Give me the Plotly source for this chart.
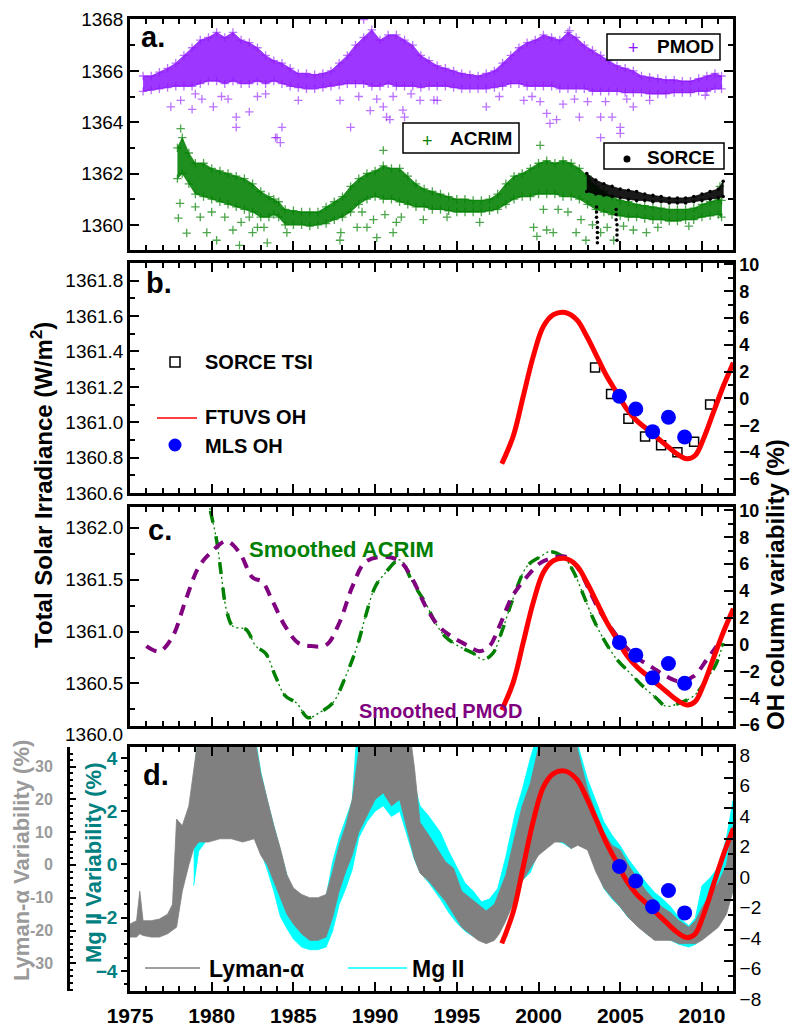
import plotly.graph_objects as go

W, H = 792, 1028
FONT = "Liberation Sans, Arial, sans-serif"


def fx(p):
    return p / W


def fy(p):
    return 1 - p / H


# ---------------- panel a: TSI composites (W/m^2) ----------------
pmod_year = [1975.8, 1976.3, 1976.8, 1977.3, 1977.8, 1978.3, 1978.8, 1979.3, 1979.8, 1980.3,
             1980.8, 1981.3, 1981.8, 1982.3, 1982.8, 1983.3, 1983.8, 1984.3, 1984.8, 1985.3,
             1985.8, 1986.3, 1986.8, 1987.3, 1987.8, 1988.3, 1988.8, 1989.3, 1989.8, 1990.3,
             1990.8, 1991.3, 1991.8, 1992.3, 1992.8, 1993.3, 1993.8, 1994.3, 1994.8, 1995.3,
             1995.8, 1996.3, 1996.8, 1997.3, 1997.8, 1998.3, 1998.8, 1999.3, 1999.8, 2000.3,
             2000.8, 2001.3, 2001.8, 2002.3, 2002.8, 2003.3, 2003.8, 2004.3, 2004.8, 2005.3,
             2005.8, 2006.3, 2006.8, 2007.3, 2007.8, 2008.3, 2008.8, 2009.3, 2009.8, 2010.3,
             2010.8, 2011.2]
pmod_hi = [1365.8, 1365.8, 1365.95, 1366.1, 1366.3, 1366.6, 1366.9, 1367.2, 1367.3, 1367.5,
           1367.3, 1367.5, 1367.2, 1367.1, 1366.9, 1366.6, 1366.4, 1366.3, 1366.1, 1365.9,
           1365.9, 1365.85, 1365.9, 1366.0, 1366.3, 1366.6, 1367.0, 1367.3, 1367.6, 1367.2,
           1367.4, 1367.4, 1367.2, 1367.0, 1366.6, 1366.4, 1366.2, 1366.1, 1366.0, 1365.9,
           1365.85, 1365.8, 1365.9, 1366.0, 1366.3, 1366.6, 1366.9, 1367.1, 1367.2, 1367.4,
           1367.3, 1367.2, 1367.5, 1367.3, 1367.0, 1366.8, 1366.6, 1366.4, 1366.2, 1366.1,
           1366.0, 1365.8, 1365.75, 1365.7, 1365.65, 1365.65, 1365.6, 1365.6, 1365.7, 1365.8,
           1365.9, 1365.8]
pmod_lo = [1365.2, 1365.25, 1365.3, 1365.35, 1365.4, 1365.4, 1365.4, 1365.5, 1365.6, 1365.6,
           1365.5, 1365.6, 1365.5, 1365.5, 1365.6, 1365.5, 1365.6, 1365.5, 1365.4, 1365.35,
           1365.3, 1365.3, 1365.35, 1365.4, 1365.45, 1365.5, 1365.5, 1365.5, 1365.4, 1365.4,
           1365.5, 1365.4, 1365.4, 1365.4, 1365.35, 1365.4, 1365.4, 1365.4, 1365.35, 1365.3,
           1365.3, 1365.3, 1365.3, 1365.35, 1365.4, 1365.5, 1365.5, 1365.4, 1365.4, 1365.4,
           1365.4, 1365.3, 1365.3, 1365.3, 1365.3, 1365.2, 1365.2, 1365.2, 1365.2, 1365.15,
           1365.15, 1365.15, 1365.1, 1365.1, 1365.1, 1365.15, 1365.15, 1365.15, 1365.2, 1365.2,
           1365.3, 1365.3]
pmod_out_year = [1977.5, 1978.1, 1978.8, 1979.4, 1980.1, 1981.5, 1981.5, 1982.3, 1983.9, 1984.0,
                 1984.2, 1984.3, 1985.3, 1987.85, 1988.5, 1989.3, 1989.7, 1990.5, 1990.7, 1990.9,
                 1991.7, 1991.8, 1992.75, 1993.6, 1993.8, 1996.8, 1997.6, 1999.1, 2000.5, 2000.7,
                 2001.1, 2001.9, 2002.5, 2003.8, 2003.8, 2004.5, 2005.0, 2005.0, 2005.8, 2006.8,
                 2010.2, 1979.0, 1980.6, 1981.0, 1982.8, 1983.3, 1989.0, 1990.1, 1991.1, 1992.2,
                 1999.6, 2000.1, 2001.5, 2002.2, 2003.0, 2004.1, 2005.4]
pmod_out_val = [1364.6, 1364.85, 1364.5, 1364.9, 1364.6, 1364.2, 1363.8, 1364.4, 1363.4, 1363.4,
                1363.2, 1363.8, 1364.85, 1364.85, 1363.8, 1368.0, 1364.45, 1364.6, 1364.2, 1364.1,
                1364.47, 1364.2, 1364.85, 1364.86, 1364.85, 1364.6, 1365.0, 1364.85, 1364.34, 1363.95,
                1364.1, 1367.57, 1364.2, 1364.2, 1363.4, 1364.2, 1363.8, 1363.56, 1364.6, 1364.85,
                1365.05, 1365.1, 1365.0, 1364.9, 1365.0, 1365.1, 1365.0, 1364.9, 1365.0, 1365.1,
                1365.0, 1364.8, 1364.7, 1364.9, 1364.8, 1364.8, 1364.9]

acrim_year = [1977.9, 1978.2, 1978.6, 1979.0, 1979.5, 1980.0, 1980.5, 1981.0, 1981.5, 1982.0,
              1982.5, 1983.0, 1983.5, 1983.8, 1984.1, 1984.5, 1985.0, 1985.5, 1986.0, 1986.5,
              1987.0, 1987.5, 1988.0, 1988.5, 1989.0, 1989.5, 1990.0, 1990.5, 1991.0, 1991.5,
              1992.0, 1992.5, 1993.0, 1993.5, 1994.0, 1994.5, 1995.0, 1995.5, 1996.0, 1996.5,
              1997.0, 1997.5, 1998.0, 1998.5, 1999.0, 1999.5, 2000.0, 2000.5, 2001.0, 2001.5,
              2002.0, 2002.5, 2003.0, 2003.5, 2004.0, 2004.5, 2005.0, 2005.5, 2006.0, 2006.5,
              2007.0, 2007.5, 2008.0, 2008.5, 2009.0, 2009.5, 2010.0, 2010.5, 2011.0, 2011.2]
acrim_hi = [1363.0, 1363.4, 1362.8, 1362.4, 1362.4, 1362.2, 1362.1, 1362.0, 1361.9, 1361.8,
            1361.6, 1361.3, 1361.1, 1361.0, 1360.9, 1360.6, 1360.55, 1360.5, 1360.5, 1360.5,
            1360.7, 1360.9, 1361.1, 1361.5, 1361.8, 1362.0, 1362.1, 1362.3, 1362.2, 1362.2,
            1361.9, 1361.6, 1361.4, 1361.3, 1361.2, 1361.1, 1361.0, 1361.0, 1360.95, 1360.95,
            1361.0, 1361.2, 1361.6, 1361.9, 1362.0, 1362.2, 1362.4, 1362.5, 1362.4, 1362.5,
            1362.4, 1362.2, 1361.9, 1361.5, 1361.3, 1361.1, 1360.95, 1360.9, 1360.8, 1360.75,
            1360.7, 1360.65, 1360.6, 1360.6, 1360.6, 1360.65, 1360.8, 1360.9, 1361.0, 1360.95]
acrim_lo = [1361.8, 1362.0, 1361.6, 1361.2, 1361.1, 1361.0, 1360.9, 1360.8, 1360.7, 1360.6,
            1360.5, 1360.3, 1360.3, 1360.4, 1360.3, 1360.0, 1360.0, 1360.0, 1359.95, 1360.0,
            1360.05, 1360.2, 1360.3, 1360.5, 1360.8, 1361.0, 1361.1, 1361.0, 1361.0, 1360.9,
            1360.8, 1360.7, 1360.7, 1360.6, 1360.6, 1360.55, 1360.5, 1360.5, 1360.5, 1360.5,
            1360.55, 1360.6, 1360.8, 1361.0, 1361.1, 1361.1, 1361.2, 1361.2, 1361.2, 1361.1,
            1361.1, 1361.0, 1360.8, 1360.6, 1360.5, 1360.4, 1360.35, 1360.3, 1360.3, 1360.25,
            1360.2, 1360.2, 1360.15, 1360.15, 1360.2, 1360.2, 1360.3, 1360.35, 1360.4, 1360.3]
acrim_out_year = [1977.96, 1978.06, 1978.47, 1979.3, 1979.7, 1980.3, 1981.3, 1981.7, 1982.3, 1982.5,
                  1983.2, 1983.4, 1987.85, 1987.9, 1988.9, 1989.5, 1989.9, 1990.1, 1990.5, 1991.1,
                  1991.3, 1992.95, 1994.4, 1996.4, 1999.7, 1999.9, 2000.1, 2000.5, 2000.9, 2002.3,
                  2002.9, 2003.8, 2004.6, 2005.8, 2006.6, 2011.1, 1978.1, 1979.0, 1980.0, 1980.8,
                  1981.8, 1982.8, 1984.6, 1989.2, 1990.6, 1991.6, 2000.3, 2001.2, 2001.8, 2002.6,
                  2003.3, 2004.2, 2005.2, 2007.3, 2009.2]
acrim_out_val = [1360.26, 1360.84, 1359.68, 1360.3, 1359.7, 1359.4, 1359.8, 1359.2, 1360.3, 1359.7,
                 1359.9, 1359.3, 1359.4, 1359.7, 1359.9, 1359.9, 1360.2, 1359.5, 1362.9, 1359.7,
                 1360.1, 1360.2, 1360.3, 1360.1, 1359.9, 1359.55, 1363.1, 1359.8, 1359.7, 1359.7,
                 1359.4, 1359.7, 1359.4, 1359.8, 1359.7, 1361.5, 1363.75, 1360.7, 1360.5, 1360.3,
                 1360.1, 1359.9, 1359.7, 1360.5, 1360.4, 1360.3, 1360.6, 1360.6, 1360.5, 1360.2,
                 1360.0, 1359.9, 1359.95, 1359.9, 1359.95]

sorce_year = [2002.95, 2003.5, 2004.0, 2004.5, 2005.0, 2005.5, 2006.0, 2006.5, 2007.0, 2007.5,
              2008.0, 2008.5, 2009.0, 2009.5, 2010.0, 2010.5, 2011.0, 2011.3]
sorce_hi = [1362.0, 1361.75, 1361.6, 1361.5, 1361.4, 1361.35, 1361.3, 1361.2, 1361.15, 1361.1,
            1361.05, 1361.05, 1361.05, 1361.1, 1361.2, 1361.3, 1361.4, 1361.7]
sorce_lo = [1361.3, 1361.2, 1361.15, 1361.1, 1361.05, 1361.0, 1360.95, 1360.95, 1360.9, 1360.9,
            1360.85, 1360.85, 1360.85, 1360.9, 1360.95, 1361.0, 1361.05, 1361.1]
sorce_out_year = [2003.55, 2003.55, 2003.55, 2003.6, 2003.6, 2003.6, 2003.6, 2003.6,
                  2004.75, 2004.75, 2004.75, 2004.8, 2004.8, 2004.8, 2004.8]
sorce_out_val = [1360.7, 1360.5, 1360.3, 1360.1, 1359.9, 1359.7, 1359.5, 1359.3,
                 1360.6, 1360.4, 1360.2, 1360.0, 1359.8, 1359.6, 1359.4]

# ---------------- OH column variability (%) and SORCE TSI annual means ----------------
ftuvs_year = [1997.75, 1998.46, 1999.07, 1999.68, 2000.30, 2000.91, 2001.62, 2002.34, 2002.95,
              2003.56, 2004.17, 2004.78, 2005.40, 2006.01, 2006.62, 2007.23, 2007.84, 2008.46,
              2009.07, 2009.58, 2010.09, 2010.70, 2011.31, 2011.92]
ftuvs_oh = [-4.88, -2.78, 0.19, 3.16, 5.38, 6.25, 6.42, 5.88, 4.64,
            3.16, 1.67, 0.44, -0.8, -1.66, -2.28, -2.9, -3.52, -4.13,
            -4.5, -4.26, -3.02, -1.04, 0.93, 2.67]
mls_year = [2004.95, 2005.95, 2006.98, 2007.95, 2008.94]
mls_oh = [0.16, -0.79, -2.48, -1.41, -2.88]
sorce_tsi_year = [2003.46, 2004.44, 2005.5, 2006.52, 2007.5, 2008.5, 2009.52, 2010.5]
sorce_tsi = [1361.31, 1361.16, 1361.02, 1360.92, 1360.87, 1360.83, 1360.89, 1361.10]

# ---------------- panel c: smoothed composites ----------------
smooth_pmod_year = [1976.0, 1976.8, 1977.6, 1978.4, 1979.2, 1980.0, 1980.9, 1981.7, 1982.5, 1983.1,
                    1983.7, 1984.5, 1985.3, 1986.1, 1987.0, 1987.8, 1988.6, 1989.4, 1990.5, 1991.5,
                    1992.3, 1993.1, 1993.9, 1994.7, 1995.6, 1996.4, 1997.0, 1997.6, 1998.4, 1999.3,
                    2000.1, 2000.9, 2001.7, 2002.5, 2003.1, 2003.7, 2004.5, 2005.4, 2006.2, 2007.0,
                    2007.8, 2008.6, 2009.5, 2010.3, 2010.9]
smooth_pmod = [1360.86, 1360.81, 1360.95, 1361.30, 1361.62, 1361.77, 1361.87, 1361.76, 1361.52, 1361.48,
               1361.30, 1361.05, 1360.89, 1360.86, 1360.87, 1361.08, 1361.43, 1361.67, 1361.72, 1361.68,
               1361.50, 1361.24, 1361.05, 1360.95, 1360.87, 1360.81, 1360.86, 1361.05, 1361.34, 1361.53,
               1361.66, 1361.71, 1361.72, 1361.59, 1361.40, 1361.21, 1361.02, 1360.84, 1360.73, 1360.65,
               1360.57, 1360.52, 1360.57, 1360.73, 1360.86]
smooth_acrim_year = [1979.0, 1979.8, 1980.3, 1980.6, 1980.9, 1981.3, 1982.1, 1982.7, 1983.3, 1983.9,
                     1984.5, 1985.2, 1985.9, 1986.6, 1987.4, 1988.2, 1988.9, 1989.4, 1990.0, 1990.6,
                     1991.5, 1992.3, 1993.1, 1993.7, 1994.3, 1995.1, 1996.0, 1996.6, 1997.2, 1997.8,
                     1998.4, 1999.3, 2000.1, 2000.7, 2001.5, 2002.1, 2002.7, 2003.3, 2003.9, 2004.8,
                     2005.6, 2006.4, 2007.2, 2007.8, 2008.6, 2009.5, 2010.3, 2010.9, 2011.3]
smooth_acrim = [1362.9, 1362.25, 1361.88, 1361.53, 1361.21, 1361.05, 1361.02, 1360.86, 1360.79, 1360.57,
                1360.38, 1360.31, 1360.17, 1360.22, 1360.31, 1360.57, 1360.86, 1361.14, 1361.43, 1361.56,
                1361.69, 1361.47, 1361.27, 1361.08, 1360.95, 1360.86, 1360.79, 1360.73, 1360.79, 1361.02,
                1361.30, 1361.63, 1361.72, 1361.77, 1361.72, 1361.59, 1361.37, 1361.14, 1360.95, 1360.73,
                1360.60, 1360.47, 1360.36, 1360.28, 1360.31, 1360.38, 1360.54, 1360.70, 1360.89]

# ---------------- panel d: UV proxies (%) ----------------
lya_year = [1975.0, 1975.4, 1975.6, 1975.8, 1976.3, 1976.8, 1977.3, 1977.6, 1977.85, 1978.2,
            1978.6, 1978.9, 1979.2, 1979.8, 1980.5, 1981.2, 1981.9, 1982.6, 1983.0, 1983.4,
            1983.8, 1984.2, 1984.6, 1985.0, 1985.5, 1986.0, 1986.5, 1987.0, 1987.4, 1987.8,
            1988.2, 1988.6, 1989.0, 1989.5, 1990.0, 1990.5, 1991.0, 1991.5, 1992.0, 1992.4,
            1992.75, 1993.3, 1993.8, 1994.3, 1994.8, 1995.3, 1995.8, 1996.3, 1996.8, 1997.3,
            1997.6, 1998.0, 1998.6, 1999.0, 1999.5, 2000.0, 2000.5, 2001.0, 2001.5, 2002.0,
            2002.4, 2003.0, 2003.5, 2004.0, 2004.5, 2005.0, 2005.5, 2006.1, 2006.6, 2007.1,
            2007.6, 2008.1, 2008.6, 2009.2, 2009.6, 2010.0, 2010.5, 2011.0, 2011.5, 2011.9]
lya_hi = [-18, -17, -8, -17, -17, -16.5, -15, -12, 14, 12,
          18, 28, 40, 45, 45, 45, 45, 40, 28, 20,
          12, 5, -3, -7, -9, -10, -10, -9, -2, 6,
          12, 20, 35, 45, 45, 45, 45, 45, 45, 30,
          13, 9, 5, 1, -1, -8, -10, -12, -14, -12,
          -8, -3, 10, 18, 25, 36, 40, 40, 45, 45,
          35, 23, 16, 10, 6, 4.6, 0, -4.6, -8, -10.7,
          -13, -14.6, -17, -19, -17, -13, -9, -5.5, 0, 12]
lya_lo = [-22, -22, -21, -21.5, -22, -22, -21, -20, -19, -8,
          0, 5, 7, 7, 8, 8, 7, 8, 3, 0,
          -5, -10, -15, -18, -21, -23, -23, -22, -16, -8,
          -2, 3, 10, 15, 20, 22, 18, 20, 10, 2,
          -2.5, -5, -8, -11, -15, -19, -21, -23, -24, -23,
          -21, -17, -10, -5, -1, 3, 5, 7, 7, 5,
          6, 4.6, -2, -7, -10, -12.8, -16, -19, -21, -23,
          -23, -23, -24, -24, -24, -23, -21, -19, -15, -8]
mg2_year = [1978.9, 1979.2, 1979.8, 1980.5, 1981.2, 1981.9, 1982.6, 1983.0, 1983.4, 1983.8,
            1984.2, 1984.6, 1985.0, 1985.5, 1986.0, 1986.5, 1987.0, 1987.4, 1987.8, 1988.2,
            1988.6, 1989.0, 1989.5, 1990.0, 1990.5, 1991.0, 1991.5, 1992.0, 1992.4, 1992.75,
            1993.3, 1994.0, 1994.5, 1995.0, 1995.5, 1996.0, 1996.5, 1997.0, 1997.5, 1998.0,
            1998.6, 1999.0, 1999.5, 2000.0, 2000.5, 2001.0, 2001.5, 2002.0, 2002.4, 2003.0,
            2003.5, 2004.0, 2004.5, 2005.0, 2005.5, 2006.1, 2006.6, 2007.1, 2007.6, 2008.1,
            2008.6, 2009.2, 2009.6, 2010.0, 2010.5, 2011.0, 2011.5, 2011.9]
mg2_hi = [2.2, 6, 6, 6, 6, 6, 5, 3.5, 2.4, 1.5,
          0.6, -0.4, -1.0, -1.2, -1.3, -1.3, -1.2, 0.1, 1.0, 1.7,
          2.4, 6, 6, 6, 6, 6, 6, 6, 3.0, 2.2,
          1.8, 1.2, 0.5, -0.1, -0.7, -1.0, -1.4, -1.3, -0.9, 0.3,
          2.0, 2.8, 4.0, 5, 6, 6, 6, 6, 4.5, 3.2,
          2.4, 1.6, 1.1, 0.7, 0.2, -0.3, -0.7, -1.05, -1.3, -1.6,
          -2.0, -2.3, -2.0, -0.8, -0.5, -0.1, 1.0, 2.4]
mg2_lo = [-0.8, 0.5, 1.0, 1.1, 1.2, 1.0, 1.0, 0.5, -0.2, -1.0,
          -1.95, -2.4, -2.8, -3.1, -3.2, -3.2, -3.1, -2.5, -1.5, -0.9,
          -0.2, 1.0, 1.6, 2.0, 2.2, 1.8, 2.0, 1.0, 0.2, -0.3,
          -0.7, -1.3, -1.8, -2.2, -2.5, -2.7, -2.8, -2.8, -2.6, -2.0,
          -1.2, -0.6, -0.3, 0.5, 0.8, 0.9, 0.8, 0.6, 0.8, 0.7,
          -0.1, -0.9, -1.3, -1.6, -2.0, -2.3, -2.6, -2.8, -2.8, -2.85,
          -3.0, -3.1, -3.0, -2.8, -2.5, -2.1, -1.6, -1.0]
lya_tick_vals = [-30, -20, -10, 0, 10, 20, 30]

for name, a, b in [("pmod", pmod_year, pmod_hi), ("pmod", pmod_year, pmod_lo),
                   ("pmod_out", pmod_out_year, pmod_out_val),
                   ("acrim", acrim_year, acrim_hi), ("acrim", acrim_year, acrim_lo),
                   ("acrim_out", acrim_out_year, acrim_out_val),
                   ("sorce", sorce_year, sorce_hi), ("sorce", sorce_year, sorce_lo),
                   ("sorce_out", sorce_out_year, sorce_out_val),
                   ("ftuvs", ftuvs_year, ftuvs_oh), ("mls", mls_year, mls_oh),
                   ("sorce_tsi", sorce_tsi_year, sorce_tsi),
                   ("spmod", smooth_pmod_year, smooth_pmod), ("sacrim", smooth_acrim_year, smooth_acrim),
                   ("lya", lya_year, lya_hi), ("lya", lya_year, lya_lo),
                   ("mg2", mg2_year, mg2_hi), ("mg2", mg2_year, mg2_lo)]:
    if len(a) != len(b):
        raise ValueError(f"{name}: {len(a)} vs {len(b)}")

PURPLE = "rgb(140,20,255)"
GREEN = "#008000"
SM_PURPLE = "#800080"
TEAL = "#008080"
LGRAY = "#9a9a9a"

fig = go.Figure()


def band(x, lo, hi, fill, xa, ya):
    return go.Scatter(x=list(x) + list(x)[::-1], y=list(hi) + list(lo)[::-1],
                      fill="toself", fillcolor=fill, mode="lines",
                      line=dict(width=0.8, color=fill), xaxis=xa, yaxis=ya,
                      hoverinfo="skip", showlegend=False)


def crosses(x, y, color, xa, ya, size=6):
    return go.Scatter(x=x, y=y, mode="markers", xaxis=xa, yaxis=ya, showlegend=False,
                      marker=dict(symbol="cross-thin", size=size, color=color,
                                  line=dict(width=1.3, color=color)))


# panel a
fig.add_trace(band(acrim_year, acrim_lo, acrim_hi, "rgba(0,128,0,0.88)", "x", "y"))
fig.add_trace(crosses(acrim_year + acrim_year, acrim_hi + acrim_lo, "rgba(0,128,0,0.7)", "x", "y"))
fig.add_trace(crosses(acrim_out_year, acrim_out_val, "rgba(0,128,0,0.7)", "x", "y"))
fig.add_trace(band(sorce_year, sorce_lo, sorce_hi, "rgba(0,0,0,0.9)", "x", "y"))
fig.add_trace(go.Scatter(x=sorce_year + sorce_year + sorce_out_year,
                         y=sorce_hi + sorce_lo + sorce_out_val, mode="markers",
                         marker=dict(size=3.5, color="black"), xaxis="x", yaxis="y",
                         showlegend=False))
fig.add_trace(band(pmod_year, pmod_lo, pmod_hi, "rgba(140,20,255,0.85)", "x", "y"))
fig.add_trace(crosses(pmod_year + pmod_year, pmod_hi + pmod_lo, "rgba(140,20,255,0.6)", "x", "y"))
fig.add_trace(crosses(pmod_out_year, pmod_out_val, "rgba(140,20,255,0.6)", "x", "y"))

# panel b
fig.add_trace(go.Scatter(x=sorce_tsi_year, y=sorce_tsi, mode="markers", xaxis="x2", yaxis="y2",
                         marker=dict(symbol="square-open", size=9, color="black",
                                     line=dict(width=1.5, color="black")),
                         showlegend=False))
fig.add_trace(go.Scatter(x=ftuvs_year, y=ftuvs_oh, mode="lines", xaxis="x2", yaxis="y3",
                         line=dict(color="red", width=5, shape="spline"), showlegend=False))
fig.add_trace(go.Scatter(x=mls_year, y=mls_oh, mode="markers", xaxis="x2", yaxis="y3",
                         marker=dict(size=15, color="blue"), showlegend=False))

# panel c
fig.add_trace(go.Scatter(x=smooth_acrim_year, y=smooth_acrim, mode="lines", xaxis="x3", yaxis="y4",
                         line=dict(color=GREEN, width=1.3, dash="2px,3px", shape="spline"),
                         showlegend=False))
fig.add_trace(go.Scatter(x=smooth_acrim_year, y=smooth_acrim, mode="lines", xaxis="x3", yaxis="y4",
                         line=dict(color=GREEN, width=3.5, dash="12px,14px", shape="spline"),
                         showlegend=False))
fig.add_trace(go.Scatter(x=smooth_pmod_year, y=smooth_pmod, mode="lines", xaxis="x3", yaxis="y4",
                         line=dict(color=SM_PURPLE, width=4, dash="11px,8px", shape="spline"),
                         showlegend=False))
fig.add_trace(go.Scatter(x=ftuvs_year, y=ftuvs_oh, mode="lines", xaxis="x3", yaxis="y5",
                         line=dict(color="red", width=5, shape="spline"), showlegend=False))
fig.add_trace(go.Scatter(x=mls_year, y=mls_oh, mode="markers", xaxis="x3", yaxis="y5",
                         marker=dict(size=15, color="blue"), showlegend=False))

# panel d
fig.add_trace(band(mg2_year, mg2_lo, mg2_hi, "#00ffff", "x4", "y6"))
fig.add_trace(band(lya_year, lya_lo, lya_hi, "#808080", "x4", "y7"))
fig.add_trace(go.Scatter(x=ftuvs_year, y=ftuvs_oh, mode="lines", xaxis="x4", yaxis="y8",
                         line=dict(color="red", width=5, shape="spline"), showlegend=False))
fig.add_trace(go.Scatter(x=mls_year, y=mls_oh, mode="markers", xaxis="x4", yaxis="y8",
                         marker=dict(size=15, color="blue"), showlegend=False))

# ---------------- axes ----------------
FRAME = dict(showline=True, linewidth=2.5, linecolor="black", showgrid=False, zeroline=False,
             ticks="inside", ticklen=9, tickwidth=2, tickcolor="black", automargin=False)


def minor(d, ticks="inside", ln=5):
    return dict(dtick=d, ticks=ticks, ticklen=ln, tickwidth=1.5, tickcolor="black", showgrid=False)


def tfont(size=19, color="black", bold=False):
    return dict(family=FONT, size=size, color=color, weight="bold" if bold else "normal")


XDOM = [fx(130), fx(733)]
xbase = dict(FRAME, range=[1975, 2011.9], tick0=1975, dtick=5, minor=minor(1), mirror="ticks",
             domain=XDOM)

layout_axes = dict(
    xaxis=dict(xbase, anchor="y", showticklabels=False),
    xaxis2=dict(xbase, anchor="y2", matches="x", showticklabels=False),
    xaxis3=dict(xbase, anchor="y4", matches="x", showticklabels=False),
    xaxis4=dict(xbase, anchor="y6", matches="x", showticklabels=True,
                tickfont=tfont(21, bold=True), ticklabelstandoff=4),
    yaxis=dict(FRAME, domain=[fy(250), fy(19)], anchor="x", range=[1359.02, 1368.02],
               tick0=1360, dtick=2, minor=minor(1), mirror="ticks", tickfont=tfont(19)),
    yaxis2=dict(FRAME, domain=[fy(493), fy(263)], anchor="x2", range=[1360.6, 1361.9],
                tick0=1360.6, dtick=0.2, minor=minor(0.1), tickformat=".1f", tickfont=tfont(19)),
    yaxis3=dict(FRAME, overlaying="y2", side="right", anchor="x2", range=[-7.06, 10.11],
                tick0=0, dtick=2, minor=minor(1), tickfont=tfont(18, bold=True)),
    yaxis4=dict(FRAME, domain=[fy(726), fy(507)], anchor="x3", range=[1360.09, 1362.2],
                tick0=1360, dtick=0.5, minor=minor(0.25), tickformat=".1f", tickfont=tfont(19)),
    yaxis5=dict(FRAME, overlaying="y4", side="right", anchor="x3", range=[-6.07, 10.25],
                tick0=0, dtick=2, minor=minor(1), tickfont=tfont(18, bold=True)),
    yaxis6=dict(FRAME, domain=[fy(991), fy(747)], anchor="x4", range=[-4.75, 4.41],
                tick0=0, dtick=2, ticks="outside", ticklen=6, minor=minor(0.5, "outside", 3),
                tickfont=tfont(19, TEAL, bold=True)),
    yaxis7=dict(FRAME, overlaying="y6", anchor="free", position=fx(68), side="left",
                range=[-38.45, 36.0], tick0=0, dtick=10, ticklen=6, minor=minor(2, "inside", 3),
                showticklabels=False),
    yaxis8=dict(FRAME, overlaying="y6", side="right", anchor="x4", range=[-8.0001, 8.0001],
                tick0=0, dtick=2, minor=minor(1), tickfont=tfont(19), ticklabelshift=8),
)


# ---------------- text ----------------
def note(text, x, y, size, color="black", xanchor="left", yanchor="middle", angle=0, bold=True):
    return dict(text=f"<b>{text}</b>" if bold else text, x=fx(x), y=fy(y), xref="paper",
                yref="paper", xanchor=xanchor, yanchor=yanchor, showarrow=False,
                textangle=angle, font=dict(family=FONT, size=size, color=color))


annotations = [
    note("a.", 139, 37, 29),
    note("b.", 144, 283, 29),
    note("c.", 146, 530, 29),
    note("d.", 141, 775, 29),
    note("Smoothed ACRIM", 247, 549, 22, GREEN),
    note("Smoothed PMOD", 357, 711, 20, SM_PURPLE),
    note("Total Solar Irradiance (W/m<sup>2</sup>)", 42, 485, 24, xanchor="center", angle=-90),
    note("OH column variability (%)", 775, 585, 24, xanchor="center", angle=-90),
    note("Lyman-α Variability (%)", 21, 861, 22, LGRAY, xanchor="center", angle=-90),
    note("Mg II Variability (%)", 93, 863, 22, TEAL, xanchor="center", angle=-90),
    note("1360.0", 125, 734, 19, xanchor="right", bold=False),
    # legend entries
    note("+", 633, 48, 18, PURPLE, xanchor="center", bold=False),
    note("PMOD", 655, 47, 19),
    note("+", 427, 141, 18, GREEN, xanchor="center", bold=False),
    note("ACRIM", 448, 139, 19),
    note("SORCE", 645, 157, 19),
    note("SORCE TSI", 203, 362, 20),
    note("FTUVS OH", 203, 417, 20),
    note("MLS OH", 203, 446, 20),
    note("Lyman-α", 207, 969, 23),
    note("Mg II", 410, 969, 23),
]

# Lyman-alpha axis tick labels, placed on the y7 scale beside the free axis line
for v in lya_tick_vals:
    annotations.append(dict(text=f"<b>{v}</b>", xref="paper", x=fx(55), xanchor="right",
                            yref="y7", y=v, yanchor="middle", showarrow=False,
                            font=dict(family=FONT, size=16, color=LGRAY)))


def rect(x0, y0, x1, y1, lw=1.5, fill="white", color="black"):
    return dict(type="rect", xref="paper", yref="paper", x0=fx(x0), x1=fx(x1), y0=fy(y1), y1=fy(y0),
                line=dict(color=color, width=lw), fillcolor=fill)


def hline(x0, x1, y, color, lw=1.5):
    return dict(type="line", xref="paper", yref="paper", x0=fx(x0), x1=fx(x1), y0=fy(y), y1=fy(y),
                line=dict(color=color, width=lw))


def disc(cx, cy, r, color):
    return dict(type="circle", xref="paper", yref="paper", x0=fx(cx - r), x1=fx(cx + r),
                y0=fy(cy + r), y1=fy(cy - r), line=dict(width=0), fillcolor=color)


shapes = [
    rect(607, 34, 720, 60),
    rect(403, 123, 519, 153),
    rect(604, 143, 724, 169),
    disc(627, 159, 3.5, "black"),
    rect(170, 357, 180, 367, fill="rgba(0,0,0,0)"),
    hline(157, 197, 418, "red"),
    disc(175, 445, 6.5, "blue"),
    hline(145, 200, 968, "#808080"),
    hline(348, 407, 968, "#00ffff"),
]

fig.update_layout(
    width=W, height=H, autosize=False,
    margin=dict(l=0, r=0, t=0, b=0, pad=0, autoexpand=False),
    paper_bgcolor="white", plot_bgcolor="white",
    showlegend=False,
    font=dict(family=FONT, color="black"),
    annotations=annotations, shapes=shapes,
    **layout_axes,
)

fig.write_html("out.html")
